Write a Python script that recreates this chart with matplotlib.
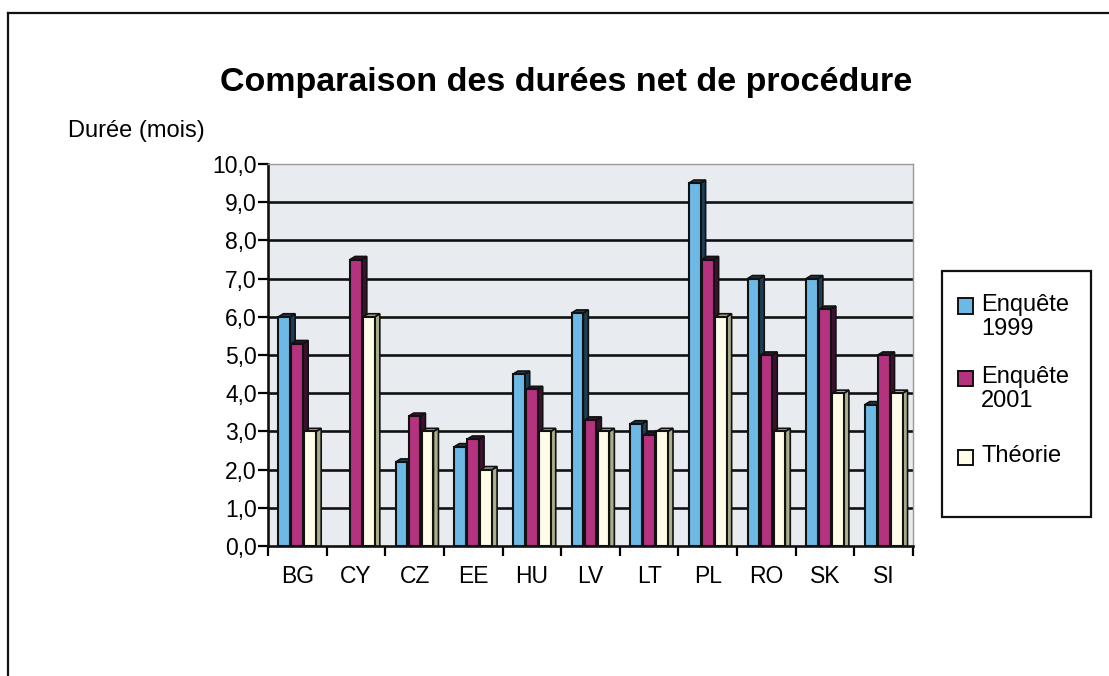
import matplotlib
matplotlib.use("Agg")
import matplotlib.pyplot as plt
from matplotlib.patches import Rectangle, Polygon
from matplotlib.lines import Line2D
import numpy as np

plt.rcParams['font.family'] = ['Liberation Sans', 'DejaVu Sans']

categories = ["BG", "CY", "CZ", "EE", "HU", "LV", "LT", "PL", "RO", "SK", "SI"]
enquete_1999 = [6.0, 0.0, 2.2, 2.6, 4.5, 6.1, 3.2, 9.5, 7.0, 7.0, 3.7]
enquete_2001 = [5.3, 7.5, 3.4, 2.8, 4.1, 3.3, 2.9, 7.5, 5.0, 6.2, 5.0]
theorie = [3.0, 6.0, 3.0, 2.0, 3.0, 3.0, 3.0, 6.0, 3.0, 4.0, 4.0]
series_labels = ["Enquête\n1999", "Enquête\n2001", "Théorie"]
yticks = [0, 1, 2, 3, 4, 5, 6, 7, 8, 9, 10]

front_colors = ["#6DB9E6", "#B4327E", "#FFFDE8"]
side_colors = ["#1C3F57", "#3E1030", "#A9AE8C"]

W, H = 1109, 676
fig = plt.figure(figsize=(W / 100, H / 100), dpi=100)
fig.patch.set_facecolor("white")


def fx(px):
    return px / W


def fy(py):
    return 1 - py / H


# outer border (left and top visible)
fig.add_artist(Line2D([fx(8), fx(8)], [0, fy(12.5)], color="#111111", lw=1.6,
                      transform=fig.transFigure))
fig.add_artist(Line2D([fx(8), 1], [fy(12.5), fy(12.5)], color="#111111", lw=1.6,
                      transform=fig.transFigure))

left, right = fx(268), fx(913)
bottom, top = fy(546), fy(164)
ax = fig.add_axes([left, bottom, right - left, top - bottom])
ax.set_facecolor("#E8ECF1")
n = len(categories)
ax.set_xlim(-0.5, n - 0.5)
ax.set_ylim(0, 10)

for v in yticks[1:-1]:
    ax.axhline(v, color="#111111", lw=1.9, zorder=1)

x = np.arange(n)
offsets = [-0.222, 0.0, 0.222]
bw = 0.2
dx, dy = 0.085, 0.08
for si, vals in enumerate([enquete_1999, enquete_2001, theorie]):
    for i, v in enumerate(vals):
        if v <= 0:
            continue
        x0 = x[i] + offsets[si] - bw / 2
        z = 2 + si
        side = Polygon([(x0 + bw, 0), (x0 + bw + dx, 0), (x0 + bw + dx, v + dy), (x0 + bw, v)],
                       closed=True, facecolor=side_colors[si], edgecolor="#111111", lw=1.2, zorder=z)
        topf = Polygon([(x0, v), (x0 + dx, v + dy), (x0 + bw + dx, v + dy), (x0 + bw, v)],
                       closed=True, facecolor=side_colors[si], edgecolor="#111111", lw=1.2, zorder=z)
        front = Rectangle((x0, 0), bw, v, facecolor=front_colors[si], edgecolor="#111111",
                          lw=1.5, zorder=z)
        ax.add_patch(side)
        ax.add_patch(topf)
        ax.add_patch(front)

ax.set_yticks(yticks)
ax.set_yticklabels([f"{v:.1f}".replace(".", ",") for v in yticks], fontsize=16.5)
ax.set_xticks(np.arange(-0.5, n, 1.0))
ax.set_xticklabels([])
ax.set_xticks(x, minor=True)
ax.set_xticklabels(categories, minor=True, fontsize=16.5)
ax.tick_params(axis="x", which="minor", length=0, pad=14)
ax.tick_params(axis="x", which="major", length=7, width=1.6, direction="out")
ax.tick_params(axis="y", length=7, width=1.6, direction="out", pad=1)

for s in ["top", "right"]:
    ax.spines[s].set_color("#9A9A9A")
    ax.spines[s].set_linewidth(1.0)
for s in ["left", "bottom"]:
    ax.spines[s].set_color("#111111")
    ax.spines[s].set_linewidth(1.9)

fig.text(fx(566), fy(82), "Comparaison des durées net de procédure", ha="center",
         va="center", fontsize=24.5, fontweight="bold")
fig.text(fx(68), fy(131), "Durée (mois)", ha="left", va="center", fontsize=17)

# legend (Excel-style: marker aligned with first text line)
fig.add_artist(Rectangle((fx(942), fy(517)), fx(1091) - fx(942), fy(271) - fy(517),
                         transform=fig.transFigure, facecolor="white", edgecolor="#111111",
                         lw=1.6))
item_y = [306, 378, 457]
for k, lab in enumerate(series_labels):
    yc = item_y[k]
    fig.add_artist(Rectangle((fx(958), fy(yc + 7.5)), fx(973) - fx(958), fy(yc - 7.5) - fy(yc + 7.5),
                             transform=fig.transFigure, facecolor=front_colors[k],
                             edgecolor="#111111", lw=1.4))
    fig.text(fx(981), fy(yc - 12), lab, ha="left", va="top", fontsize=17,
             linespacing=1.1)

fig.savefig("out.png", dpi=100, facecolor="white")
